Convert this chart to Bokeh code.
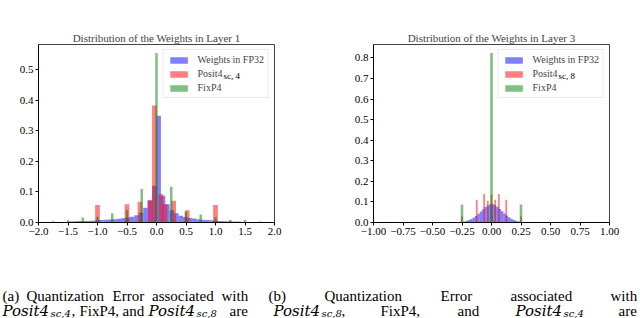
from bokeh.plotting import figure
from bokeh.layouts import row, column
from bokeh.models import (Range1d, FixedTicker, Legend, LegendItem, Label,
                          CustomJSTickFormatter, ColumnDataSource)
from bokeh.core.properties import value
from bokeh.embed import file_html
from bokeh.resources import INLINE

SERIF = "Liberation Serif"
MATH = "DejaVu Serif"

# ---------------- data: Layer 1 ----------------
l1_fp32_width = 0.075
l1_fp32_centers = [round(-1.8375 + 0.075 * k, 4) for k in range(50)]
l1_fp32_heights = [0.001, 0.001, 0.001, 0.002, 0.002, 0.003, 0.004, 0.005, 0.005, 0.005,
                   0.006, 0.007, 0.008, 0.009, 0.010, 0.011, 0.012, 0.014, 0.016, 0.019,
                   0.024, 0.032, 0.048, 0.072, 0.120,
                   0.350, 0.088, 0.060, 0.040, 0.030, 0.022, 0.018, 0.015, 0.013, 0.011,
                   0.009, 0.008, 0.007, 0.006, 0.005, 0.004, 0.004, 0.003, 0.003, 0.002,
                   0.002, 0.002, 0.001, 0.001, 0.001]
l1_posit_x = [-1.0, -0.5, -0.28, -0.11, -0.035, 0.075, 0.145, 0.29, 0.52, 1.0]
l1_posit_y = [0.057, 0.060, 0.068, 0.073, 0.383, 0.093, 0.060, 0.071, 0.040, 0.057]
l1_fix_x = [-1.75, -1.5, -1.25, -1.0, -0.75, -0.5, -0.25, 0.0, 0.25, 0.5, 0.75, 1.0, 1.25, 1.5, 1.75]
l1_fix_y = [0.004, 0.007, 0.016, 0.019, 0.030, 0.041, 0.110, 0.555, 0.117, 0.035, 0.026, 0.017,
            0.008, 0.008, 0.003]
l1_xticks = [-2.0, -1.5, -1.0, -0.5, 0.0, 0.5, 1.0, 1.5, 2.0]
l1_yticks = [0.0, 0.1, 0.2, 0.3, 0.4, 0.5]

# ---------------- data: Layer 3 ----------------
l3_fp32_width = 0.02
l3_fp32_centers = [round(-0.29 + 0.02 * k, 3) for k in range(30)]
l3_fp32_heights = [0.001, 0.002, 0.003, 0.005, 0.008, 0.012, 0.017, 0.024, 0.032, 0.042,
                   0.053, 0.064, 0.075, 0.083, 0.089, 0.090, 0.085, 0.077, 0.066, 0.055,
                   0.044, 0.034, 0.025, 0.018, 0.012, 0.008, 0.005, 0.003, 0.002, 0.001]
l3_posit_x = [-0.25, -0.125, -0.0625, -0.03125, 0.0, 0.03125, 0.0625, 0.125, 0.25]
l3_posit_y = [0.030, 0.110, 0.139, 0.106, 0.135, 0.110, 0.139, 0.110, 0.030]
l3_fix_x = [-0.25, 0.0, 0.25]
l3_fix_y = [0.087, 0.824, 0.087]
l3_xticks = [-1.0, -0.75, -0.5, -0.25, 0.0, 0.25, 0.5, 0.75, 1.0]
l3_yticks = [0.0, 0.1, 0.2, 0.3, 0.4, 0.5, 0.6, 0.7, 0.8]

legend_labels = ["Weights in FP32", "Posit4", "FixP4"]

FRAME_W, FRAME_H = 236, 178


def fmt(decimals):
    return CustomJSTickFormatter(code="""
        const s = Math.abs(tick).toFixed(%d);
        return (tick < -1e-9 ? '\\u2212' : '') + s;""" % decimals)


def hist_fig(width, left, right, xr, yr, title):
    p = figure(width=width, height=252, x_range=Range1d(*xr), y_range=Range1d(*yr),
               output_backend="svg", toolbar_location=None,
               min_border_left=left, min_border_right=right,
               min_border_top=44, min_border_bottom=30)
    p.grid.visible = False
    p.outline_line_color = "#444444"
    p.background_fill_color = "white"
    p.border_fill_color = "white"
    for ax in (p.xaxis[0], p.yaxis[0]):
        ax.major_label_text_font = SERIF
        ax.major_label_text_font_size = "11px"
        ax.major_label_text_color = "black"
        ax.axis_line_color = "black"
        ax.major_tick_line_color = "black"
        ax.major_tick_out = 3
        ax.major_tick_in = 0
        ax.minor_tick_out = 0
        ax.minor_tick_in = 0
        ax.major_label_standoff = 2
    p.title.text = title
    p.title.text_font = SERIF
    p.title.text_font_size = "11px"
    p.title.text_font_style = "normal"
    p.title.align = "center"
    p.title.standoff = 2
    return p


def add_bars(p, fx, fy, fw, px, py, pw, gx, gy, gw):
    r1 = p.vbar(x=fx, top=fy, bottom=0, width=fw, fill_color="blue", fill_alpha=0.5, line_color=None)
    r2 = p.vbar(x=px, top=py, bottom=0, width=pw, fill_color="red", fill_alpha=0.5, line_color=None)
    r3 = p.vbar(x=gx, top=gy, bottom=0, width=gw, fill_color="green", fill_alpha=0.5, line_color=None)
    leg = Legend(items=[LegendItem(label=legend_labels[0], renderers=[r1]),
                        LegendItem(label=legend_labels[1], renderers=[r2]),
                        LegendItem(label=legend_labels[2], renderers=[r3])],
                 location="top_right", margin=5, padding=4, spacing=3,
                 glyph_width=22, glyph_height=8, label_standoff=8, label_height=10,
                 label_text_font=SERIF, label_text_font_size="10px",
                 border_line_color="#d5d5d5", background_fill_alpha=0.0,
                 level="annotation")
    p.add_layout(leg)


def frame_label(p, xr, yr, px, py, text, size):
    # px: pixels from frame left, py: pixels from frame top (baseline)
    x = xr[0] + px / FRAME_W * (xr[1] - xr[0])
    y = yr[1] - py / FRAME_H * (yr[1] - yr[0])
    p.add_layout(Label(x=x, y=y, text=text, text_font=SERIF, text_font_size=size,
                       text_baseline="alphabetic", text_align="left", text_color="black",
                       level="overlay"))


# ---- left: layer 1 ----
L1_X = (-2.0, 2.0)
L1_Y = (0.0, 0.583)
p1 = hist_fig(324, 38, 50, L1_X, L1_Y, "Distribution of the Weights in Layer 1")
p1.xaxis.ticker = FixedTicker(ticks=l1_xticks)
p1.yaxis.ticker = FixedTicker(ticks=l1_yticks)
p1.xaxis.formatter = fmt(1)
p1.yaxis.formatter = fmt(1)
add_bars(p1, l1_fp32_centers, l1_fp32_heights, l1_fp32_width,
         l1_posit_x, l1_posit_y, 0.08, l1_fix_x, l1_fix_y, 0.042)
frame_label(p1, L1_X, L1_Y, 185, 31, "sc, 4", "9px")

# ---- right: layer 3 ----
L3_X = (-1.0, 1.0)
L3_Y = (0.0, 0.865)
p2 = hist_fig(316, 49, 31, L3_X, L3_Y, "Distribution of the Weights in Layer 3")
p2.xaxis.ticker = FixedTicker(ticks=l3_xticks)
p2.yaxis.ticker = FixedTicker(ticks=l3_yticks)
p2.xaxis.formatter = fmt(2)
p2.yaxis.formatter = fmt(1)
add_bars(p2, l3_fp32_centers, l3_fp32_heights, l3_fp32_width,
         l3_posit_x, l3_posit_y, 0.015, l3_fix_x, l3_fix_y, 0.022)
frame_label(p2, L3_X, L3_Y, 185, 31, "sc, 8", "9px")

# ---------------- captions ----------------
cap = figure(width=640, height=66, x_range=Range1d(0, 640), y_range=Range1d(318, 252),
             output_backend="svg", toolbar_location=None, min_border=0,
             x_axis_location=None, y_axis_location=None)
cap.grid.visible = False
cap.outline_line_color = None
cap.background_fill_color = "white"
cap.border_fill_color = "white"

B1, B2, B3 = 295, 310, 324
R, M, S = "15px", "15px", "10px"
segs = [
    # (text, x, y, font, size, style)
    ("(a)", 2, B1, SERIF, R, "normal"),
    ("Quantization", 26, B1, SERIF, R, "normal"),
    ("Error", 112, B1, SERIF, R, "normal"),
    ("associated", 151.5, B1, SERIF, R, "normal"),
    ("with", 221, B1, SERIF, R, "normal"),
    ("Posit4", 2, B2, MATH, M, "italic"),
    ("sc,4", 50, B2 + 3, MATH, S, "italic"),
    (",", 71, B2, SERIF, R, "normal"),
    ("FixP4,", 79, B2, SERIF, R, "normal"),
    ("and", 122, B2, SERIF, R, "normal"),
    ("Posit4", 148, B2, MATH, M, "italic"),
    ("sc,8", 196, B2 + 3, MATH, S, "italic"),
    ("are", 229, B2, SERIF, R, "normal"),
    ("0.019,  0.028,  and 0.043,  respectively.", 2, B3, SERIF, R, "normal"),
    ("(b)", 268, B1, SERIF, R, "normal"),
    ("Quantization", 324, B1, SERIF, R, "normal"),
    ("Error", 440, B1, SERIF, R, "normal"),
    ("associated", 510, B1, SERIF, R, "normal"),
    ("with", 610, B1, SERIF, R, "normal"),
    ("Posit4", 273, B2, MATH, M, "italic"),
    ("sc,8", 321, B2 + 3, MATH, S, "italic"),
    (",", 341, B2, SERIF, R, "normal"),
    ("FixP4,", 380, B2, SERIF, R, "normal"),
    ("and", 457, B2, SERIF, R, "normal"),
    ("Posit4", 515, B2, MATH, M, "italic"),
    ("sc,4", 563, B2 + 3, MATH, S, "italic"),
    ("are", 618, B2, SERIF, R, "normal"),
    ("0.0004,  0.0042,  and 0.0027,  respectively.", 268, B3, SERIF, R, "normal"),
]
src = ColumnDataSource(dict(
    text=[s[0] for s in segs], x=[s[1] for s in segs], y=[s[2] for s in segs],
    font=[s[3] for s in segs], size=[s[4] for s in segs], style=[s[5] for s in segs]))
cap.text(x="x", y="y", text="text", source=src, text_font="font", text_font_size="size",
         text_font_style="style", text_baseline="alphabetic", text_align="left",
         text_color="black")

layout = column(row(p1, p2), cap)
open("out.html", "w").write(file_html(layout, INLINE))
